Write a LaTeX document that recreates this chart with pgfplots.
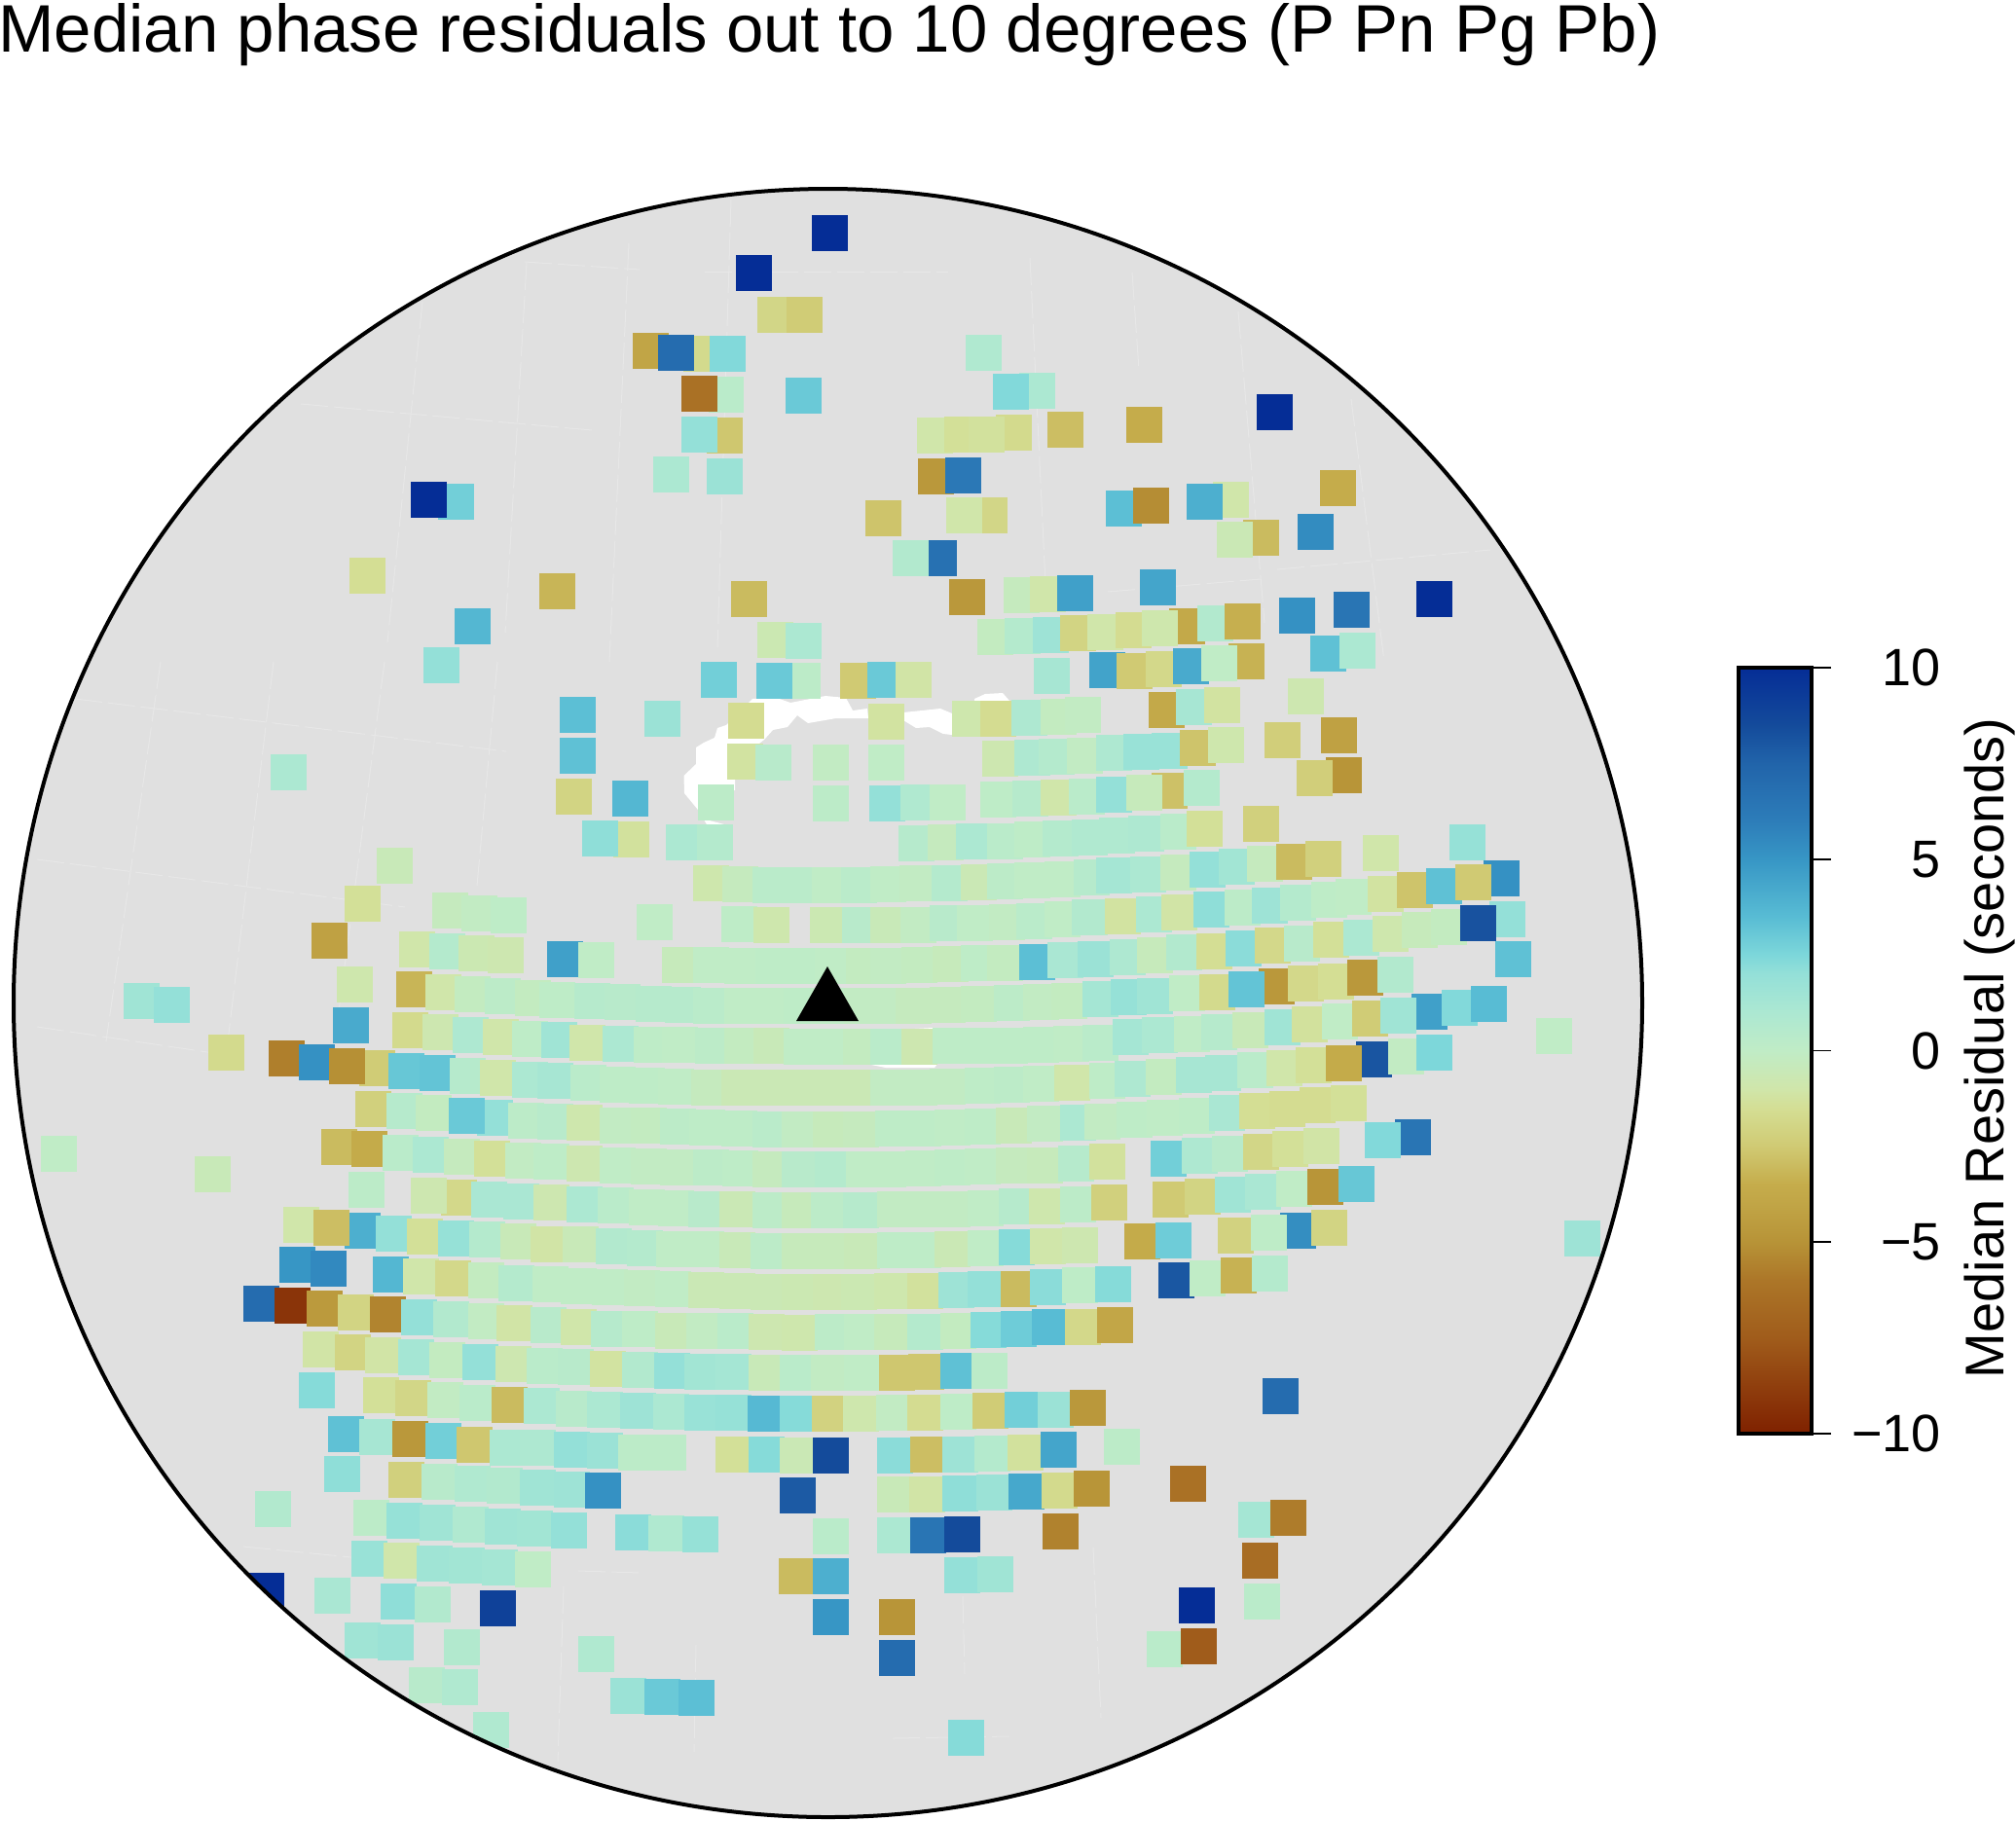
\documentclass[border=0pt]{standalone}
\usepackage{fontspec}
\setmainfont{Liberation Sans}
\usepackage{pgfplots}
\pgfplotsset{compat=1.18}
\pgfplotsset{colormap={resid}{
rgb255(0cm)=(127,33,0) rgb255(5cm)=(160,92,27) rgb255(8cm)=(172,118,40) rgb255(10cm)=(183,147,55)
rgb255(12cm)=(193,165,70) rgb255(13cm)=(197,172,75) rgb255(15cm)=(208,202,115) rgb255(17cm)=(212,222,148)
rgb255(18cm)=(208,230,170) rgb255(20cm)=(192,236,198) rgb255(22cm)=(172,232,210) rgb255(24cm)=(148,224,216)
rgb255(25cm)=(125,215,218) rgb255(27cm)=(88,188,212) rgb255(30cm)=(55,150,197) rgb255(32cm)=(45,125,185)
rgb255(35cm)=(33,100,170) rgb255(37cm)=(20,75,155) rgb255(40cm)=(5,45,150)}}
\definecolor{disc}{RGB}{224,224,224}
\definecolor{grat}{RGB}{231,231,231}
\pgfplotsset{canvas/.style={
  at={(0,0)},anchor=south west,
  scale only axis,width=1035.5pt,height=935pt,
  xmin=0,xmax=2071,ymin=0,ymax=1870,y dir=reverse,
  axis lines=none,clip=false}}
\begin{document}
\begin{tikzpicture}
\path[use as bounding box] (0,0) rectangle (1035.5pt,935pt);
\begin{axis}[canvas,colormap name=resid,point meta min=-10,point meta max=10]
\fill[disc] (axis cs:850.5,1030.5) circle[radius=836.5];
% faint graticule
\addplot[grat,line width=0.5pt,dash pattern=on 14pt off 3pt,forget plot] coordinates {(165,680)(109,1070)};
\addplot[grat,line width=0.5pt,dash pattern=on 14pt off 3pt,forget plot] coordinates {(281,680)(234,1070)};
\addplot[grat,line width=0.5pt,dash pattern=on 14pt off 3pt,forget plot] coordinates {(395,680)(340,1100)};
\addplot[grat,line width=0.5pt,dash pattern=on 14pt off 3pt,forget plot] coordinates {(511,680)(490,910)};
\addplot[grat,line width=0.5pt,dash pattern=on 14pt off 3pt,forget plot] coordinates {(77,718)(520,772)};
\addplot[grat,line width=0.5pt,dash pattern=on 14pt off 3pt,forget plot] coordinates {(38,883)(416,932)};
\addplot[grat,line width=0.5pt,dash pattern=on 14pt off 3pt,forget plot] coordinates {(38,1055)(240,1085)};
\addplot[grat,line width=0.5pt,dash pattern=on 14pt off 3pt,forget plot] coordinates {(751,205)(737,665)};
\addplot[grat,line width=0.5pt,dash pattern=on 14pt off 3pt,forget plot] coordinates {(646,250)(626,680)};
\addplot[grat,line width=0.5pt,dash pattern=on 14pt off 3pt,forget plot] coordinates {(541,270)(519,650)};
\addplot[grat,line width=0.5pt,dash pattern=on 14pt off 3pt,forget plot] coordinates {(434,310)(398,660)};
\addplot[grat,line width=0.5pt,dash pattern=on 14pt off 3pt,forget plot] coordinates {(539,269)(657,277)};
\addplot[grat,line width=0.5pt,dash pattern=on 14pt off 3pt,forget plot] coordinates {(309,415)(608,442)};
\addplot[grat,line width=0.5pt,dash pattern=on 14pt off 3pt,forget plot] coordinates {(724,279)(974,279)};
\addplot[grat,line width=0.5pt,dash pattern=on 14pt off 3pt,forget plot] coordinates {(1058,265)(1074,600)};
\addplot[grat,line width=0.5pt,dash pattern=on 14pt off 3pt,forget plot] coordinates {(1163,280)(1170,380)};
\addplot[grat,line width=0.5pt,dash pattern=on 14pt off 3pt,forget plot] coordinates {(1272,320)(1299,640)};
\addplot[grat,line width=0.5pt,dash pattern=on 14pt off 3pt,forget plot] coordinates {(1388,410)(1422,680)};
\addplot[grat,line width=0.5pt,dash pattern=on 14pt off 3pt,forget plot] coordinates {(1138,608)(1295,595)};
\addplot[grat,line width=0.5pt,dash pattern=on 14pt off 3pt,forget plot] coordinates {(1312,585)(1531,565)};
\addplot[grat,line width=0.5pt,dash pattern=on 14pt off 3pt,forget plot] coordinates {(579,1630)(573,1810)};
\addplot[grat,line width=0.5pt,dash pattern=on 14pt off 3pt,forget plot] coordinates {(715,1690)(713,1800)};
\addplot[grat,line width=0.5pt,dash pattern=on 14pt off 3pt,forget plot] coordinates {(989,1640)(991,1720)};
\addplot[grat,line width=0.5pt,dash pattern=on 14pt off 3pt,forget plot] coordinates {(1123,1590)(1131,1765)};
\addplot[grat,line width=0.5pt,dash pattern=on 14pt off 3pt,forget plot] coordinates {(250,1589)(361,1600)};
\addplot[grat,line width=0.5pt,dash pattern=on 14pt off 3pt,forget plot] coordinates {(594,1614)(659,1616)};
\addplot[grat,line width=0.5pt,dash pattern=on 14pt off 3pt,forget plot] coordinates {(917,1786)(1037,1784)};
% white land in the disc
\addplot[fill=white,draw=none,forget plot] coordinates {(702.5,797)(715,785)(715,768)(723,763)(734,758)(737,748)(746,745)(769,722)(773,718)(798,717)(812,722)(848,715)(869,717)(876,730)(891,728)(892,738)(876,738)(859,738)(830,743)(819,735)(809,747)(794,750)(785,760)(776,767)(755,800)(755,812)(717,813)(717,830)(725,842)(744,847)(726,847)(717,832)(703,815)} --cycle;
\addplot[fill=white,draw=none,forget plot] coordinates {(928,732)(966,728)(978,733)(978,755)(969,754)(955,747)(941,748)(928,740)} --cycle;
\addplot[fill=white,draw=none,forget plot] coordinates {(1001,718)(1012,713)(1030,712)(1037,720)(1037,740)(1001,740)} --cycle;
\addplot[fill=white,draw=none,forget plot] coordinates {(885,1092)(910,1097)(960,1097)(964,1092)(965,1062)(995,1056)(958,1056)(885,1060)} --cycle;
\addplot[only marks,scatter,point meta=explicit,mark=square*,mark size=8.93pt,
  mark options={line width=0.1pt},
  scatter/use mapped color={draw=mapped color,fill=mapped color},forget plot] coordinates {
(852,239)[10] (774,280)[10] (795.5,323)[-1.9] (826,323)[-2.4]
(668,360)[-4] (720,363)[-1.7] (694,362)[7] (747,363)[2.4]
(745.5,405)[0.3] (718,404)[-6.3] (825,406)[3]
(744,447)[-2.6] (718,446)[2] (689,487)[1] (744,489)[1.7]
(468,515)[2.8] (440,513)[10] (377,591)[-1.5] (572,607)[-3.2] (769,615)[-3]
(485,643)[3.7] (453,683)[2] (796,657)[-0.7] (825,658)[1]
(1010,362)[0.8] (960,447)[-1] (987.5,446)[-1.4] (1041,444)[-1.7] (1013,446)[-1.3]
(1094,441)[-2.9] (1175,436)[-3.5] (1309,423)[10] (1065,401)[1] (1038,402)[2.4]
(961,489)[-4.7] (989,488)[6.3] (907,532)[-2.7] (1016.5,529)[-1.9] (990,529)[-1]
(964,573)[6.7] (935,573)[0.7] (993,613)[-4.7]
(1154,522)[3.4] (1182,519)[-5.2] (1264,513)[-1] (1237,515)[4] (1374,501)[-3.5]
(1295,552)[-3] (1268,554)[-0.6] (1351,546)[5.4]
(1049,611)[-0.3] (1076,610)[-1] (1104,609)[4.6] (1189,603)[4.4] (1473,615)[10]
(1388,626)[6.5] (1332,632)[5.2]
(1022,654)[-0.2] (1050,653)[0.6] (1079,652)[1.6] (1107,650)[-2] (1135,649)[-1] (1164,647)[-1.6]
(1219,643)[-3.7] (1191,645)[-0.9] (1248,640)[0.7] (1276,638)[-3.4]
(1364,671)[3.3] (1394,668)[1]
(1137,688)[4.5] (1165,689)[-2.5] (1195,687)[-1.8] (1223,684)[4.2] (1280,679)[-3.3] (1252,681)[0]
(738,698)[2.8] (824,699)[0.2] (795,699)[3] (881,699)[-2.5] (909,698)[3] (938,698)[-1.1] (1080,694)[1.2]
(593,734)[3.4] (680,738)[1.7] (766,740)[-1.6] (910,741)[-1.2] (996,738)[-0.9] (1025,738)[-1.6]
(1057,737)[0.9] (1087,736)[-0.2] (1112,734)[-0.1]
(1198,729)[-3.7] (1226,726)[1.2] (1255,724)[-1.2] (1341,715)[-0.8]
(593,776)[3.3] (765,782)[-1.2] (794,783)[0.4] (853,783)[-0.1] (910,783)[0]
(1027,779)[-0.8] (1060,778)[0.9] (1085,777)[0.6] (1114,776)[-0.1] (1144,773)[0.9] (1172,772)[1.8] (1201,771)[1.8]
(1230,768)[-2.7] (1259,765)[-0.9] (1317,760)[-2.3] (1375,755)[-4.2]
(1380,796)[-4.9] (1350,799)[-2.3]
(296,793)[1]
(589,818)[-2] (647,820)[3.7] (735,824)[0.2] (853,825)[0.2] (911,825)[2] (943,824)[0.8] (973,824)[0]
(1025,821)[0.1] (1058,820)[0.5] (1087,819)[-1] (1116,818)[0.3] (1144,816)[2]
(1201,812)[-2.8] (1175,814)[-0.4] (1234,809)[0.6]
(648,862)[-1.3] (616,861)[2.1] (702,865)[1] (734,865)[0.6] (941,866)[0.5] (971,865)[-0.3] (1000,864)[1]
(1032,864)[0.3] (1060,862)[0.1] (1089,861)[0.6] (1119,860)[0.8] (1147,858)[0.8] (1177,856)[0.9] (1210,854)[0.3] (1237,851)[-1.4]
(1295,846)[-2.2]
(730,907)[-0.9] (760,908)[-0.3] (791,909)[0.3] (823,909)[0.3] (852,909)[0] (882,909)[0.3] (912,908)[0] (942,907)[-0.1]
(975,907)[0.6] (1005,906)[-0.6] (1032,905)[0.2] (1060,904)[0] (1091,903)[0] (1121,901)[0.5] (1144,899)[1.3] (1179,898)[1]
(1210,896)[-0.3] (1240,893)[2] (1270,890)[1.4] (1299,887)[-0.3] (1329,885)[-3] (1359,882)[-2.2] (1418,876)[-1] (1507,865)[1.9]
(672,947)[0] (759,949)[0.1] (792,950)[-0.9] (850,950)[-0.7] (883,950)[0.4] (912,950)[-0.5] (943,950)[-0.1]
(973,948)[0.4] (1001,948)[0] (1034,947)[-0.1] (1062,946)[0.3] (1091,944)[0] (1119,942)[0.7]
(1153,941)[-1.2] (1185,939)[1] (1211,937)[-1.1] (1244,934)[2.1] (1276,932)[0.2] (1304,930)[1.6] (1333,927)[0.6]
(1365,924)[0.1] (1390,921)[0] (1423,918)[-1.2] (1453,914)[-2.7] (1483,910)[3.3] (1542,902)[5.2] (1513,906)[-2.5]
(462,935)[-0.3] (492,938)[-0.1] (522,940)[0.1]
(405,889)[-0.5] (372,928)[-1.4] (338,966)[-4.2]
(428,975)[-1] (459,977)[0.6] (489,979)[-0.7] (519,981)[-0.8] (580,985)[4.6] (612,986)[0]
(698,991)[-0.4] (730,991)[0] (762,992)[0] (794,992)[0.1] (826,992)[0.1] (855,992)[0] (887,992)[-0.2] (912,992)[-0.1]
(944,991)[-0.2] (976,990)[-0.4] (1005,989)[0.1] (1032,989)[-0.2] (1065,988)[3.4] (1094,986)[1.1] (1125,985)[1.7]
(1158,983)[0.9] (1186,981)[-0.4] (1216,978)[0.7] (1247,977)[-1.5] (1277,974)[2.2] (1307,971)[-1.8] (1337,969)[0.4]
(1367,965)[-1.4] (1398,963)[1] (1428,959)[-0.9] (1458,955)[-0.4] (1488,952)[-0.2] (1548,944)[2] (1518,948)[8.2] (1554,985)[3.3]
(145,1028)[1.5] (176,1032)[2] (60,1185)[0] (218,1206)[-0.5]
(364,1011)[-0.9] (425,1016)[-3.2] (455,1019)[-1] (485,1021)[-0.2] (516,1023)[0.2] (547,1025)[-0.2] (572,1027)[0.1]
(608,1028)[0.5] (639,1029)[0.4] (671,1031)[0.5] (701,1032)[0.5] (730,1033)[0.3] (762,1033)[0] (791,1033)[0] (823,1033)[0.1]
(851,1033)[0] (885,1033)[-0.1] (909,1033)[-0.1] (938,1033)[-0.3] (973,1032)[-0.3] (1005,1031)[-0.2] (1039,1030)[0.2]
(1069,1029)[-0.1] (1098,1028)[-0.2] (1130,1026)[1.3] (1159,1024)[1.9] (1186,1023)[1.5] (1219,1020)[0] (1250,1019)[-1.7]
(1311,1013)[-4.7] (1280,1016)[3.2] (1341,1010)[-1.8] (1372,1008)[-1.5] (1402,1004)[-4.7] (1433,1001)[0.7]
(1468,1039)[4.6] (1499,1035)[2.4] (1529,1031)[3.5]
(360,1053)[4.2] (421,1058)[-1.7] (452,1060)[-0.8] (483,1063)[0.9] (514,1065)[-1] (544,1067)[0.1] (574,1068)[1.5]
(603,1071)[-1] (637,1072)[1] (669,1073)[0.1] (698,1073)[0] (732,1074)[0.2] (762,1074)[-0.2] (792,1074)[-0.5] (823,1075)[0]
(855,1075)[0] (884,1075)[-0.2] (912,1075)[0.3] (944,1075)[-0.8] (976,1074)[0.1] (1009,1074)[0.1] (1037,1074)[0.1]
(1069,1073)[0.1] (1100,1072)[0] (1130,1071)[0.3] (1161,1065)[1.3] (1191,1063)[1] (1224,1062)[0] (1252,1060)[0.5]
(1284,1058)[-0.5] (1317,1055)[1.5] (1345,1052)[-1.3] (1376,1049)[0] (1407,1046)[-2.4] (1436,1043)[1.5] (1596,1064)[0]
(232,1081)[-1.7] (294,1087)[-5.7] (325,1091)[5.2] (387,1097)[-2.4] (356,1095)[-5.1] (417,1100)[3.1] (449,1102)[3.2]
(480,1105)[0.5] (511,1107)[-1] (544,1109)[1] (570,1110)[1.2]
(604,1112)[0.3] (634,1114)[0.1] (664,1115)[0.1] (694,1116)[0] (728,1117)[-0.3] (759,1117)[-0.6] (791,1117)[-0.6] (819,1117)[-0.6]
(851,1117)[-0.6] (880,1117)[-0.6] (912,1117)[-0.1] (944,1117)[-0.1] (973,1116)[-0.1] (1009,1115)[0.1] (1039,1114)[0.2]
(1069,1113)[0] (1101,1112)[-1] (1137,1110)[0.1] (1163,1108)[0.9] (1195,1106)[-0.2] (1226,1104)[1.2] (1256,1102)[1.2]
(1289,1099)[0.3] (1319,1097)[-1] (1349,1094)[-1.4] (1411,1088)[8.1] (1380,1092)[-3.6] (1444,1085)[-0.1] (1473,1081)[2.5]
(383,1139)[-2.2] (415,1141)[0.5] (445,1143)[-0.2] (508,1148)[2] (479,1146)[3] (540,1151)[0.2] (570,1152)[0.4]
(600,1153)[-0.9] (634,1156)[-0.1] (666,1156)[-0.2] (696,1157)[0.2] (726,1158)[0.1] (759,1159)[0.1] (791,1160)[0.3] (821,1160)[-0.1]
(853,1160)[-0.4] (884,1160)[-0.3] (917,1159)[0.1] (948,1159)[0.1] (978,1158)[0] (1009,1157)[0.1] (1041,1156)[-0.5]
(1073,1154)[-0.1] (1107,1153)[1] (1132,1152)[-0.1] (1165,1150)[0.1] (1196,1148)[0] (1229,1146)[0.1] (1260,1143)[1.1]
(1291,1141)[-1.5] (1322,1139)[-1.6] (1353,1135)[-1.6] (1385,1133)[-1.4] (1451,1168)[6.5] (1420,1171)[2.4]
(348,1178)[-3] (379,1180)[-3.6] (411,1184)[0.3] (442,1186)[1] (474,1188)[-0.3] (505,1190)[-1.4] (537,1192)[-0.1] (566,1193)[0.1]
(600,1195)[-0.8] (634,1197)[0] (666,1198)[-0.1] (696,1199)[-0.1] (730,1199)[0.2] (760,1200)[0.1] (791,1201)[-0.3] (821,1201)[0.4]
(855,1201)[0.6] (887,1201)[0] (912,1201)[0] (948,1200)[0] (978,1199)[0.1] (1009,1198)[0] (1041,1197)[-0.3] (1073,1197)[-0.4]
(1105,1195)[0.5] (1137,1193)[-1.3] (1200,1190)[2.8] (1232,1187)[0.9] (1263,1185)[0.4] (1295,1183)[-1.9] (1325,1180)[-1.4] (1357,1177)[-1.1]
(376,1222)[0.2] (471,1230)[-1.8] (440,1228)[-0.8] (502,1232)[1.1] (535,1234)[1.1] (566,1235)[-0.8]
(600,1237)[1] (632,1238)[0.3] (664,1240)[0] (694,1241)[0] (725,1242)[0.4] (757,1242)[-0.6] (791,1243)[0.2] (821,1243)[-0.4]
(851,1243)[0.2] (884,1243)[0.5] (919,1242)[-0.1] (948,1242)[-0.1] (978,1242)[-0.1] (1012,1241)[0] (1044,1239)[0.5]
(1075,1239)[-0.9] (1107,1237)[0.2] (1139,1235)[-2.2] (1202,1232)[-2.5] (1235,1229)[-2] (1266,1227)[1.5] (1297,1224)[1.1] (1329,1221)[0] (1361,1219)[-4.9] (1393,1216)[3.1]
(309,1258)[-1] (372,1264)[4] (340,1261)[-2.9] (404,1267)[2] (436,1270)[-1.4] (468,1272)[1.9] (500,1273)[0.6] (532,1275)[-0.5] (563,1278)[-1.1]
(596,1278)[-0.5] (630,1280)[0.7] (662,1282)[0.6] (692,1283)[0] (725,1283)[0] (757,1284)[-0.5] (789,1285)[0.2] (821,1285)[-0.4]
(853,1285)[-0.4] (885,1285)[-0.5] (919,1284)[0.1] (948,1284)[0.1] (978,1283)[-0.6] (1012,1282)[0] (1044,1281)[2.3] (1076,1280)[-1] (1109,1279)[-0.8]
(1173,1275)[-3.6] (1205,1274)[2.9] (1269,1269)[-2.1] (1333,1264)[5.3] (1303,1266)[0.1] (1365,1261)[-2] (1625,1272)[1.6]
(305,1299)[5] (337,1303)[5.5] (401,1309)[3.7] (432,1311)[-1] (465,1313)[-1.8] (499,1315)[-0.2] (530,1318)[0.6] (565,1319)[0]
(594,1321)[0] (626,1322)[0] (659,1323)[-0.1] (691,1324)[0] (725,1325)[-0.6] (757,1326)[-0.6] (789,1327)[-0.6] (821,1327)[-0.7]
(853,1327)[-0.8] (882,1327)[-0.7] (916,1326)[-0.9] (950,1326)[-1.3] (982,1325)[1.6] (1012,1324)[2] (1046,1324)[-3] (1076,1322)[2.2]
(1109,1320)[0.1] (1143,1319)[2.3] (1208,1315)[8] (1240,1313)[0] (1272,1310)[-3.3] (1304,1308)[0.6]
(268,1339)[7] (300,1341)[-9.2] (333,1344)[-4.6] (365,1348)[-2] (398,1350)[-5.5] (430,1353)[2] (463,1355)[0.7] (499,1357)[-0.1] (528,1359)[-1.1] (563,1361)[0.4]
(594,1363)[-1] (625,1365)[0.5] (657,1365)[0.1] (691,1367)[-0.5] (723,1367)[-0.1] (755,1367)[0.3] (787,1368)[-0.8] (821,1369)[-0.9]
(855,1368)[0.2] (885,1368)[0] (916,1368)[-0.4] (950,1368)[0.6] (984,1367)[-0.2] (1015,1366)[2.3] (1046,1365)[2.9] (1078,1363)[3.5] (1112,1363)[-1.8] (1145,1361)[-3.9]
(329,1386)[-1.1] (362,1389)[-2] (393,1392)[-1.1] (427,1394)[1.3] (459,1397)[-0.2] (493,1399)[2] (527,1401)[-0.8] (559,1403)[0.3]
(591,1404)[0.4] (624,1406)[-1.2] (657,1407)[0.7] (690,1408)[2] (721,1409)[1.4] (753,1409)[1.3] (787,1410)[-0.5] (819,1410)[0.3]
(851,1410)[-0.1] (885,1410)[0] (921,1410)[-2.6] (951,1409)[-2.6] (984,1408)[3.3] (1016,1408)[0.2]
(325,1428)[2.3] (391,1433)[-1.4] (424,1436)[-1.9] (457,1438)[-0.1] (490,1441)[0.3] (523,1443)[-3] (556,1444)[1]
(589,1447)[0.4] (621,1448)[1] (655,1449)[1.6] (689,1450)[1] (721,1451)[1.8] (753,1451)[1.9] (786,1452)[3.6] (819,1452)[2.3]
(852,1452)[-2.1] (884,1452)[-0.9] (918,1451)[-0.1] (950,1451)[-1.6] (984,1450)[0.1] (1017,1449)[-2.4] (1050,1448)[2.8] (1084,1448)[1.7] (1117,1446)[-4.7]
(1315,1434)[7]
(355,1473)[3.3] (387,1476)[1.2] (421,1478)[-4.7] (455,1480)[2.8] (487,1484)[-2.6] (521,1487)[1] (552,1487)[0.9] (587,1489)[2] (621,1490)[1.7]
(653,1492)[0.2] (686,1492)[0.2] (753,1494)[-1.4] (787,1494)[2.3] (819,1495)[-0.6] (853,1495)[8.5]
(919,1495)[2.2] (953,1494)[-2.9] (986,1494)[1.6] (1019,1493)[0.6] (1053,1492)[-1.3] (1087,1489)[4.4] (1152,1486)[0.2]
(351,1514)[2.1] (417,1520)[-2.2] (451,1522)[0.4] (485,1524)[0.8] (518,1526)[0.7] (552,1528)[1.5] (587,1530)[1.6] (619,1531)[5.2]
(819,1536)[7.9] (919,1535)[-0.5] (952,1535)[-1.1] (986,1534)[2.1] (1021,1533)[1.7] (1054,1532)[4.3] (1088,1531)[-1.7] (1121,1529)[-4.9] (1220,1524)[-6.3]
(280,1550)[0.7] (381,1559)[0.2] (415,1562)[1.9] (449,1564)[1.5] (483,1566)[0.8] (516,1568)[1.5] (549,1570)[1.4] (584,1572)[2]
(650,1574)[2.2] (684,1575)[0.8] (719,1576)[1.9] (853,1578)[0.3] (919,1577)[1] (953,1577)[6.5] (988,1576)[8.5] (1089,1573)[-5.6]
(1290,1561)[1.3] (1323,1559)[-5.8]
(379,1601)[1.8] (412,1603)[-1] (446,1606)[1.5] (479,1608)[1.4] (513,1610)[1.3] (547,1612)[0]
(818,1619)[-3] (853,1619)[4] (988,1618)[2] (1022,1617)[1.5] (1294,1603)[-6.5]
(273,1634)[10] (341,1639)[1.1] (409,1645)[2.1] (444,1648)[0.7] (511,1652)[9]
(853,1661)[5] (921,1661)[-4.9] (1229,1649)[10] (1296,1645)[0.3]
(372,1685)[1.5] (406,1687)[1.7] (474,1692)[0.7] (612,1699)[0.8] (921,1703)[7] (1196,1694)[0.3] (1231,1691)[-7.5]
(438,1731)[0.4] (472,1733)[0.8] (645,1742)[1.7] (680,1743)[3] (715,1744)[3.4] (504,1777)[0.8] (992,1785)[2.3]
};
\end{axis}
% second layer: mask outside the disc, station triangle, border, texts
\begin{axis}[canvas]
\fill[white,even odd rule] (axis cs:850.5,1030.5) circle[radius=836.5] (axis cs:850.5,1030.5) circle[radius=880];
\addplot[fill=black,draw=none,forget plot] coordinates {(818,1049)(850,993)(882,1049)} --cycle;
\draw[black,line width=2pt] (axis cs:850.5,1030.5) circle[radius=836.5];
\node[anchor=base west,font=\fontsize{34.5}{40}\selectfont,inner sep=0pt] at (axis cs:-2,53) {Median phase residuals out to 10 degrees (P Pn Pg Pb)};
\node[rotate=90,anchor=base,font=\fontsize{28}{30}\selectfont,inner sep=0pt] at (axis cs:2058,1077) {Median Residual (seconds)};
\end{axis}
% colour bar
\begin{axis}[
  at={(893pt,198.5pt)},anchor=south west,
  scale only axis,width=37.5pt,height=393.5pt,
  xmin=0,xmax=1,ymin=-10,ymax=10,
  colormap name=resid,point meta min=-10,point meta max=10,
  axis on top,
  axis line style={line width=2pt,black},
  xtick=\empty,
  ytick={-10,-5,0,5,10},yticklabels={−10,−5,0,5,10},
  ytick pos=right,tick align=outside,major tick length=10pt,
  ytick style={line width=0.8pt,black},
  yticklabel style={font=\fontsize{27}{30}\selectfont,anchor=east,xshift=60pt},
]
\addplot[surf,shader=interp,point meta=y,mesh/rows=2,mesh/cols=2,forget plot] coordinates {(0,-10)(1,-10)(0,10)(1,10)};
\end{axis}
\end{tikzpicture}
\end{document}
